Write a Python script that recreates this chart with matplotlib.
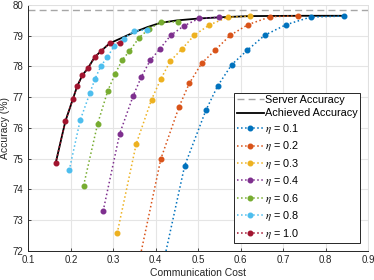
import matplotlib
matplotlib.use("Agg")
import matplotlib.pyplot as plt

plt.rcParams['font.family'] = ['Liberation Sans', 'DejaVu Sans']
plt.rcParams['mathtext.fontset'] = 'stix'

# values
server_acc = 79.83

eta_labels = ["0.1", "0.2", "0.3", "0.4", "0.6", "0.8", "1.0"]
colors = ["#0072BD", "#D95319", "#EDB120", "#7E2F8E", "#77AC30", "#4DBEEE", "#A2142F"]

cost_01 = [0.418, 0.468, 0.518, 0.546, 0.579, 0.615, 0.657, 0.707, 0.765, 0.844]
acc_01 = [71.6, 74.76, 76.57, 77.37, 78.06, 78.52, 79.02, 79.36, 79.61, 79.64]
cost_02 = [0.360, 0.412, 0.455, 0.479, 0.508, 0.539, 0.575, 0.617, 0.670, 0.736]
acc_02 = [71.6, 74.99, 76.69, 77.45, 78.10, 78.52, 79.01, 79.36, 79.62, 79.65]
cost_03 = [0.309, 0.354, 0.390, 0.412, 0.434, 0.461, 0.491, 0.526, 0.569, 0.622]
acc_03 = [72.56, 75.48, 76.92, 77.59, 78.17, 78.56, 79.02, 79.35, 79.60, 79.64]
cost_04 = [0.276, 0.315, 0.347, 0.366, 0.387, 0.409, 0.435, 0.466, 0.503, 0.550]
acc_04 = [73.29, 75.81, 77.05, 77.66, 78.20, 78.56, 79.01, 79.32, 79.57, 79.60]
cost_06 = [0.230, 0.263, 0.287, 0.304, 0.321, 0.338, 0.361, 0.383, 0.413, 0.453]
acc_06 = [74.12, 76.13, 77.21, 77.75, 78.21, 78.50, 78.94, 79.21, 79.45, 79.45]
cost_08 = [0.196, 0.222, 0.245, 0.257, 0.271, 0.286, 0.302, 0.325, 0.349, 0.379]
acc_08 = [74.61, 76.25, 77.14, 77.60, 78.02, 78.30, 78.67, 78.90, 79.16, 79.19]
cost_10 = [0.164, 0.187, 0.205, 0.215, 0.227, 0.240, 0.256, 0.271, 0.291, 0.316]
acc_10 = [74.84, 76.21, 76.95, 77.36, 77.71, 77.94, 78.30, 78.50, 78.75, 78.77]

costs = [cost_01, cost_02, cost_03, cost_04, cost_06, cost_08, cost_10]
accs = [acc_01, acc_02, acc_03, acc_04, acc_06, acc_08, acc_10]

achieved_cost = [0.164, 0.187, 0.205, 0.215, 0.227, 0.240, 0.256, 0.271, 0.291,
                 0.320, 0.350, 0.380, 0.411, 0.450, 0.500, 0.550, 0.620, 0.740, 0.846]
achieved_acc = [74.84, 76.21, 76.95, 77.36, 77.71, 77.94, 78.30, 78.50, 78.75,
                78.93, 79.12, 79.28, 79.42, 79.50, 79.56, 79.60, 79.64, 79.65, 79.65]

fig = plt.figure(figsize=(3.74, 2.8), dpi=100)
ax = fig.add_axes([0.076, 0.105, 0.908, 0.877])

ax.axhline(server_acc, color='#a6a6a6', linestyle=(0, (5, 3)), linewidth=1.0,
           label="Server Accuracy")
ax.plot(achieved_cost, achieved_acc, color='black', linewidth=1.3,
        label="Achieved Accuracy")
for c, a, lab, col in zip(costs, accs, eta_labels, colors):
    ax.plot(c, a, linestyle=':', linewidth=1.1, marker='o', markersize=3.3,
            color=col, label=r'$\eta$ = ' + lab)

ax.set_xlim(0.1, 0.9)
ax.set_ylim(72, 80)
ax.set_xticks([0.1, 0.2, 0.3, 0.4, 0.5, 0.6, 0.7, 0.8, 0.9])
ax.set_yticks(range(72, 81))
ax.grid(True, color='#e5e5e5', linewidth=0.8)
ax.set_axisbelow(True)
ax.tick_params(direction='in', length=2.5, labelsize=7, colors='#262626',
               width=0.6)
for s in ['left', 'bottom']:
    ax.spines[s].set_color('#262626')
    ax.spines[s].set_linewidth(0.7)
for s in ['top', 'right']:
    ax.spines[s].set_color('#e0e0e0')
    ax.spines[s].set_linewidth(0.7)

ax.set_xlabel("Communication Cost", fontsize=7.5, color='#262626', labelpad=2)
ax.set_ylabel("Accuracy (%)", fontsize=7.5, color='#262626', labelpad=2)

leg = ax.legend(loc='lower right', fontsize=7.8, handlelength=2.5,
                handletextpad=0.15, labelspacing=0.32, borderpad=0.22,
                borderaxespad=0.7, fancybox=False, framealpha=1)
leg.get_frame().set_edgecolor('#262626')
leg.get_frame().set_linewidth(0.7)

fig.savefig("out.png", dpi=100)
